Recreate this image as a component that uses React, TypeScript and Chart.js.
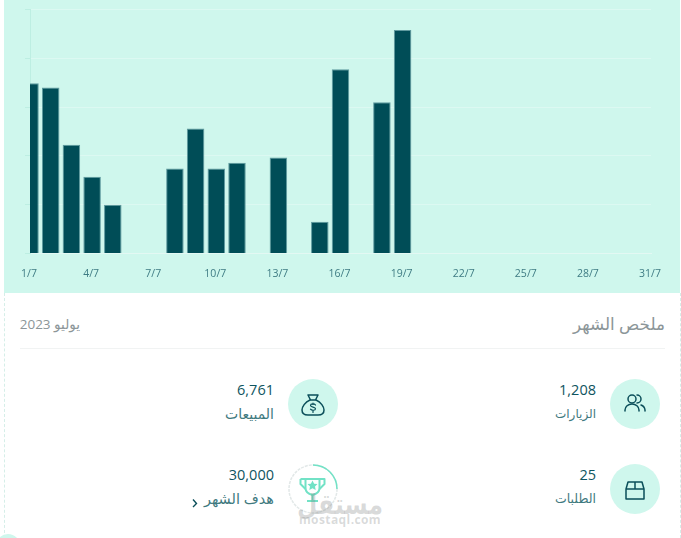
import React, { useEffect, useRef } from "react";
import { Chart, registerables } from "chart.js";

Chart.register(...registerables);

const days = ["1/7","2/7","3/7","4/7","5/7","6/7","7/7","8/7","9/7","10/7","11/7","12/7","13/7","14/7","15/7","16/7","17/7","18/7","19/7","20/7","21/7","22/7","23/7","24/7","25/7","26/7","27/7","28/7","29/7","30/7","31/7"];
const sales = [698, 680, 446, 315, 200, 0, 0, 348, 512, 348, 372, 0, 393, 0, 130, 755, 0, 620, 916, 0, 0, 0, 0, 0, 0, 0, 0, 0, 0, 0, 0];
const yTicks = [0, 200, 400, 600, 800, 1000];

const TEAL = "#cff7ed";
const DARK = "#004d57";
const TEXT = "#0f5560";
const SUB = "#3f7a80";
const FONT = "'Open Sans', 'DejaVu Sans', sans-serif";

const Abs = ({ x, y, w, h, style, children }: any) => (
  <div style={{ position: "absolute", left: x, top: y, width: w, height: h, ...style }}>{children}</div>
);

const Label = ({ right, top, size, color, children }: any) => (
  <div dir="rtl" style={{ position: "absolute", right: 681 - right, top, fontSize: size, lineHeight: `${Math.round(size) + 4}px`, color, whiteSpace: "nowrap", fontFamily: FONT }}>{children}</div>
);

const Circle = ({ cx, cy, children }: any) => (
  <Abs x={cx - 25} y={cy - 25} w={50} h={50} style={{ borderRadius: "50%", background: TEAL }}>
    <svg width="50" height="50" viewBox="0 0 50 50" fill="none" stroke="#0b4f5a" strokeWidth="1.5" strokeLinecap="round" strokeLinejoin="round">{children}</svg>
  </Abs>
);

export default function App() {
  const ref = useRef<HTMLCanvasElement>(null);
  useEffect(() => {
    const chart = new Chart(ref.current!, {
      type: "bar",
      data: {
        labels: days,
        datasets: [{
          data: sales,
          backgroundColor: DARK,
          borderColor: "#5f9a9f",
          borderWidth: (c: any) => (c.raw > 0 ? 1 : 0),
          barPercentage: 0.92,
          categoryPercentage: 0.92,
        }],
      },
      options: {
        animation: false,
        responsive: false,
        maintainAspectRatio: false,
        layout: { padding: { top: 9.5, right: 29, left: 0, bottom: 0 } },
        plugins: { legend: { display: false }, tooltip: { enabled: false } },
        scales: {
          x: {
            offset: false,
            grid: { display: false, drawTicks: false },
            border: { color: "#e3f8f3", width: 1 },
            afterFit: (s: any) => { s.height = 39.5; },
            ticks: {
              autoSkip: false,
              maxRotation: 0,
              padding: 14,
              labelOffset: -1,
              color: "#3f7c84",
              font: { family: "'Open Sans', sans-serif", size: 10.5 },
              callback: (_v: any, i: number) => (i % 3 === 0 ? days[i] : ""),
            },
          },
          y: {
            min: yTicks[0],
            max: yTicks[yTicks.length - 1],
            afterFit: (s: any) => { s.width = 26; },
            afterBuildTicks: (s: any) => { s.ticks = yTicks.map((value) => ({ value })); },
            grid: { color: "#dcf9f2", tickColor: "#bdeee2", tickLength: 5 },
            border: { color: "#bdeee2", width: 1 },
            ticks: { display: false },
          },
        },
      },
    });
    return () => chart.destroy();
  }, []);

  return (
    <div style={{ position: "absolute", left: 0, top: 0, width: 681, height: 538, background: "#fff", overflow: "hidden", fontFamily: FONT }}>
      <Abs x={4} y={293} w={0} h={245} style={{ borderLeft: "1px dashed #d5eee8" }} />
      <Abs x={680} y={293} w={0} h={245} style={{ borderLeft: "1px dashed #d5eee8" }} />
      <Abs x={4} y={0} w={676} h={293} style={{ background: TEAL }}>
        <canvas ref={ref} width={676} height={293} style={{ display: "block" }} />
      </Abs>

      <Label right={665} top={313} size={16.8} color="#8c9699">ملخص الشهر</Label>
      <Label right={80} top={315} size={13.5} color="#8c9699">يوليو 2023</Label>
      <Abs x={20} y={348} w={645} h={1} style={{ background: "#f1f3f3" }} />

      <Label right={596} top={380} size={14.5} color={TEXT}>1,208</Label>
      <Label right={596} top={406} size={12} color={SUB}>الزيارات</Label>
      <Circle cx={635} cy={404}>
        <circle cx="22" cy="20" r="4" />
        <path d="M15 32 v-1 a7 6 0 0 1 14 0 v1" />
        <path d="M27 16 a4 4 0 0 1 0 8" />
        <path d="M31 26 a6 6 0 0 1 4 5 v1" />
      </Circle>

      <Label right={274} top={380} size={14.5} color={TEXT}>6,761</Label>
      <Label right={274} top={405} size={14} color={SUB}>المبيعات</Label>
      <Circle cx={313} cy={404}>
        <path d="M20 16 h10 l-2.5 5 h-5 z" />
        <path d="M22 21 c-5 2 -8 7 -8 10 c0 4 3 5 6 5 h10 c3 0 6 -1 6 -5 c0 -3 -3 -8 -8 -10" />
        <path d="M27.5 26 c-1 -1.5 -5 -1.5 -5 .5 s5 1.2 5 3.2 s-4 2 -5 .5 M25 24 v1.5 M25 32 v1.5" strokeWidth="1.2" />
      </Circle>

      <Label right={596} top={465} size={14.5} color={TEXT}>25</Label>
      <Label right={596} top={490} size={12.5} color={SUB}>الطلبات</Label>
      <Circle cx={635} cy={489}>
        <path d="M18 18 h14 l2 7 v10 h-18 v-10 z M16 25 h18 M25 18 v7" />
      </Circle>

      <Label right={274} top={465} size={14.5} color={TEXT}>30,000</Label>
      <Label right={274} top={489} size={14.5} color={SUB}>هدف الشهر</Label>
      <Abs x={190} y={493} w={10} h={14}>
        <svg width="10" height="14" viewBox="0 0 10 14" fill="none" stroke="#0b4f5a" strokeWidth="1.4"><path d="M3 3.5 L6.5 7.5 L3 11" /></svg>
      </Abs>
      <Abs x={288} y={464} w={50} h={50}>
        <svg width="50" height="50" viewBox="0 0 50 50" fill="none">
          <circle cx="25" cy="25" r="24" stroke="#e2e8e8" strokeWidth="1.5" strokeDasharray="3 1" />
          <path d="M25 1 A24 24 0 0 1 49 25" stroke="#72e2c6" strokeWidth="1.5" />
          <g stroke="#72e2c6" strokeWidth="2" strokeLinejoin="round">
            <path d="M12.5 15 h24 v5 l-5 5 M12.5 15 v5 l5 5" />
            <path d="M17.5 15 v9 c0 4 3 6 7 7 c4 -1 7 -3 7 -7 v-9" />
            <path d="M24.5 31 v5 M19 37 h11" />
          </g>
          <path d="M24.5 16.5 l1.6 3.2 3.4 .4 -2.5 2.4 .7 3.4 -3.2 -1.7 -3.2 1.7 .7 -3.4 -2.5 -2.4 3.4 -.4 z" fill="#72e2c6" />
        </svg>
      </Abs>

      <Abs x={292} y={486} w={96} h={34} style={{ color: "rgba(120,125,125,0.28)", fontSize: 23.5, fontWeight: 700, lineHeight: "34px", textAlign: "center", whiteSpace: "nowrap", transform: "scaleY(1.2)" }}>مستقل</Abs>
      <Abs x={292} y={513} w={96} h={14} style={{ color: "rgba(120,125,125,0.28)", fontSize: 12, fontWeight: 700, lineHeight: "14px", textAlign: "center", whiteSpace: "nowrap", letterSpacing: 0.4 }}>mostaql.com</Abs>

      <Abs x={-4} y={534} w={24} h={24} style={{ borderRadius: "50%", background: TEAL }} />
    </div>
  );
}
